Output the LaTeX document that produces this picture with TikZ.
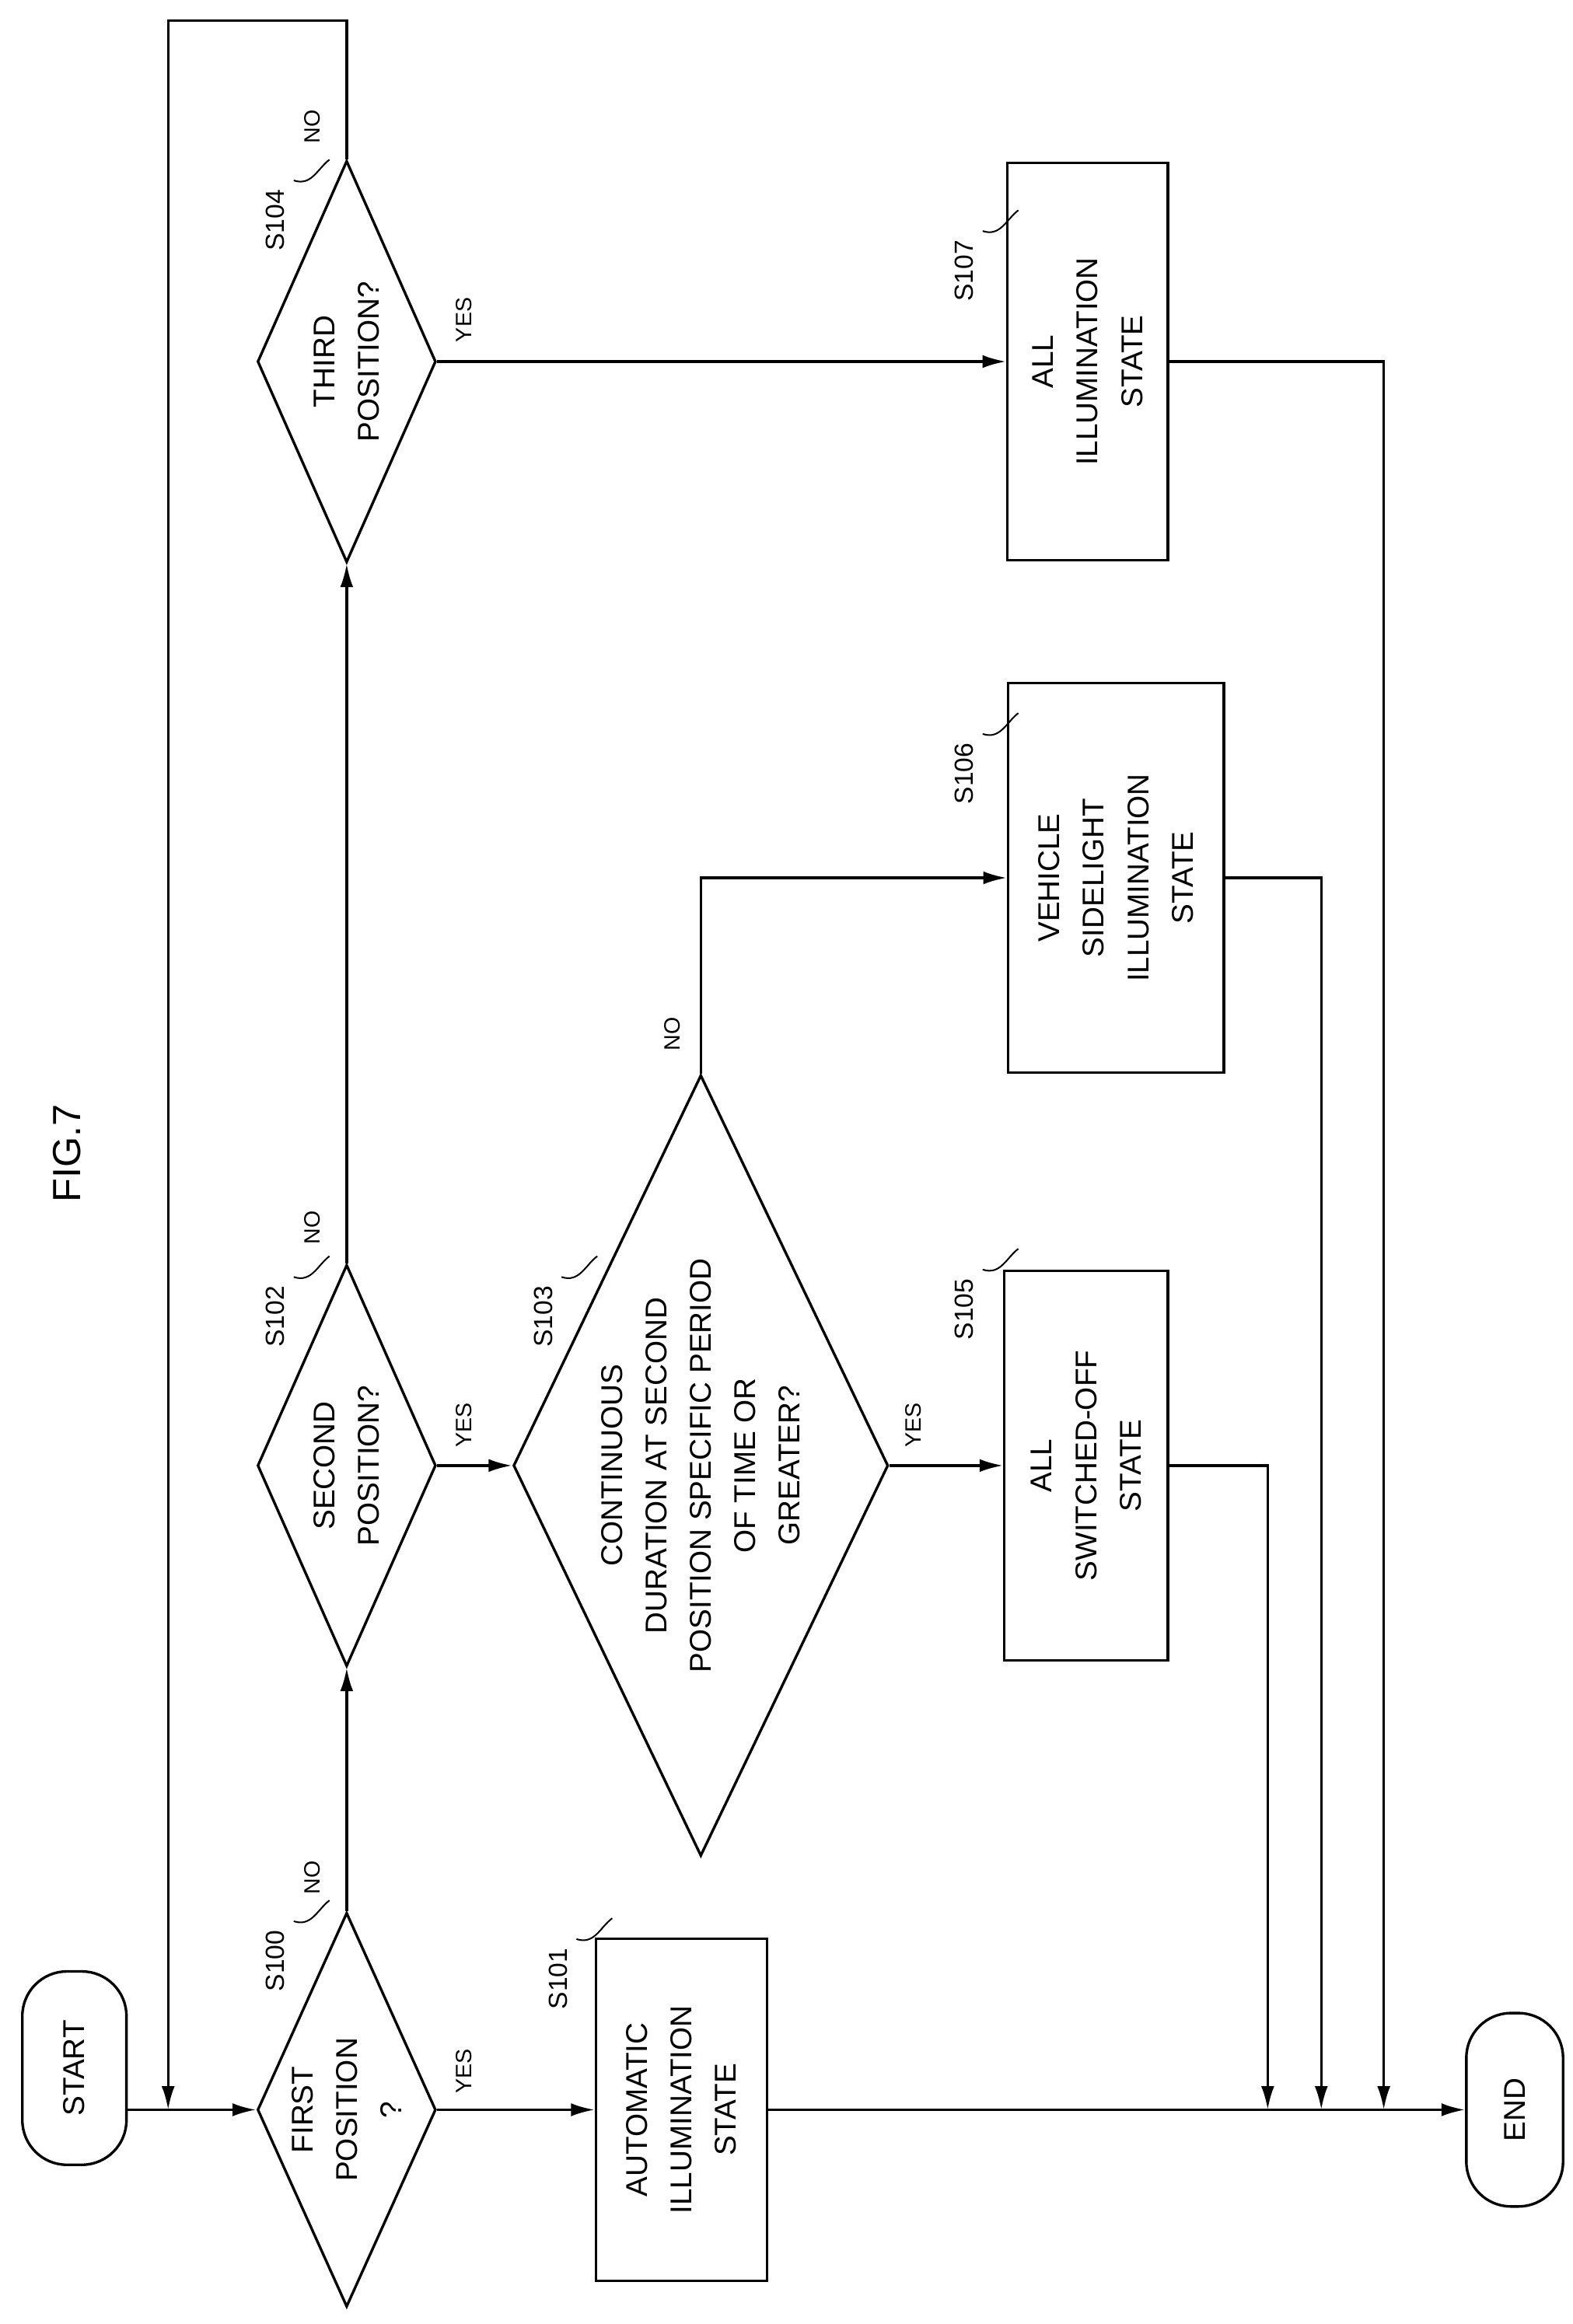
\documentclass[tikz,border=0pt]{standalone}
\usepackage{fontspec}
\setmainfont{Liberation Sans}
\usetikzlibrary{arrows.meta,shapes.geometric,positioning}

\tikzset{
  box/.style={draw, line width=1pt, rotate=90, align=center, inner sep=0pt,
    font=\fontsize{11.5}{17}\selectfont},
  dia/.style={draw, line width=1pt, diamond, rotate=90, inner sep=0pt},
  txt/.style={rotate=90, align=center, font=\fontsize{11.5}{17}\selectfont},
  term/.style={box, rounded corners=0.6cm},
  yn/.style={rotate=90, font=\fontsize{8.5}{10}\selectfont},
  steplbl/.style={rotate=90, font=\fontsize{10}{12}\selectfont},
  lead/.style={line width=0.6pt},
  flow/.style={line width=1pt, -{Latex[length=9pt,width=5pt]}}
}

\begin{document}
\begin{tikzpicture}[x=0.02cm, y=-0.02cm]
    \useasboundingbox (0,0) rectangle (1057,1562);

    % title
    \node[rotate=90, font=\fontsize{15}{18}\selectfont] (fig) at (45,775) {FIG.7};

    % terminals
    \node[term, minimum width=2.6cm, minimum height=1.4cm] (start) at (50,1390) {START};
    \node[term, minimum width=2.6cm, minimum height=1.3cm] (end) at (1018,1418) {END};

    % decisions
    \node[dia, minimum width=5.3cm, minimum height=2.4cm] (s100) at (233,1418) {};
    \node[txt] (t100) at (s100) {FIRST\\POSITION\\?};
    \node[dia, minimum width=5.4cm, minimum height=2.4cm] (s102) at (233,985) {};
    \node[txt] (t102) at (s102) {SECOND\\POSITION?};
    \node[dia, minimum width=5.4cm, minimum height=2.4cm] (s104) at (233,243) {};
    \node[txt] (t104) at (s104) {THIRD\\POSITION?};
    \node[dia, minimum width=10.5cm, minimum height=5.04cm] (s103) at (471,985) {};
    \node[txt] (t103) at (s103) {CONTINUOUS\\DURATION AT SECOND\\POSITION SPECIFIC PERIOD\\OF TIME OR\\GREATER?};

    % processes
    \node[box, minimum width=4.6cm, minimum height=2.3cm] (s101) at (458,1418) {AUTOMATIC\\ILLUMINATION\\STATE};
    \node[box, minimum width=5.24cm, minimum height=2.2cm] (s105) at (730,985) {ALL\\SWITCHED-OFF\\STATE};
    \node[box, minimum width=5.24cm, minimum height=2.9cm] (s106) at (750,590) {VEHICLE\\SIDELIGHT\\ILLUMINATION\\STATE};
    \node[box, minimum width=5.34cm, minimum height=2.16cm] (s107) at (731,243) {ALL\\ILLUMINATION\\STATE};

    % step labels
    \node[steplbl] (l100) at (185,1318) {S100};
    \node[steplbl] (l101) at (375,1330) {S101};
    \node[steplbl] (l102) at (185,885) {S102};
    \node[steplbl] (l103) at (365,885) {S103};
    \node[steplbl] (l104) at (185,148) {S104};
    \node[steplbl] (l105) at (648,880) {S105};
    \node[steplbl] (l106) at (648,520) {S106};
    \node[steplbl] (l107) at (648,182) {S107};
    \foreach \l in {l100,l101,l102,l103,l104,l105,l106,l107}
      \draw[lead] (\l.south east) .. controls +(12,4) and +(-8,6) .. ++(24,-14);

    % yes / no labels
    \node[yn] (y100) at (312,1392) {YES};
    \node[yn] (n100) at (210,1262) {NO};
    \node[yn] (y102) at (312,958) {YES};
    \node[yn] (n102) at (210,825) {NO};
    \node[yn] (y103) at (614,958) {YES};
    \node[yn] (n103) at (452,695) {NO};
    \node[yn] (y104) at (312,215) {YES};
    \node[yn] (n104) at (210,85) {NO};

    % connectors
    \coordinate (j100) at (113,1418);
    \coordinate (top) at (233,14);
    \coordinate (topl) at (113,14);
    \coordinate (c106) at (s103.east |- s106.north);
    \coordinate (d105) at (852,985);
    \coordinate (d106) at (888,590);
    \coordinate (d107) at (930,243);
    \coordinate (e105) at (852,1418);
    \coordinate (e106) at (888,1418);
    \coordinate (e107) at (930,1418);

    \draw[flow] (s100.north -| start.south) -- (s100.north);
    \draw[flow] (s100.south) -- (s101.north);
    \draw[flow] (s101.south) -- (end.north);
    \draw[flow] (s100.east) -- (s102.west);
    \draw[flow] (s102.south) -- (s103.north);
    \draw[flow] (s102.east) -- (s104.west);
    \draw[flow] (s103.south) -- (s105.north);
    \draw[flow] (s103.east) -- (c106) -- (s106.north);
    \draw[flow] (s104.south) -- (s107.north);
    \draw[flow] (s104.east) -- (top) -- (topl) -- (j100);
    \draw[flow] (s105.south) -- (d105) -- (e105);
    \draw[flow] (s106.south) -- (d106) -- (e106);
    \draw[flow] (s107.south) -- (d107) -- (e107);
\end{tikzpicture}
\end{document}
